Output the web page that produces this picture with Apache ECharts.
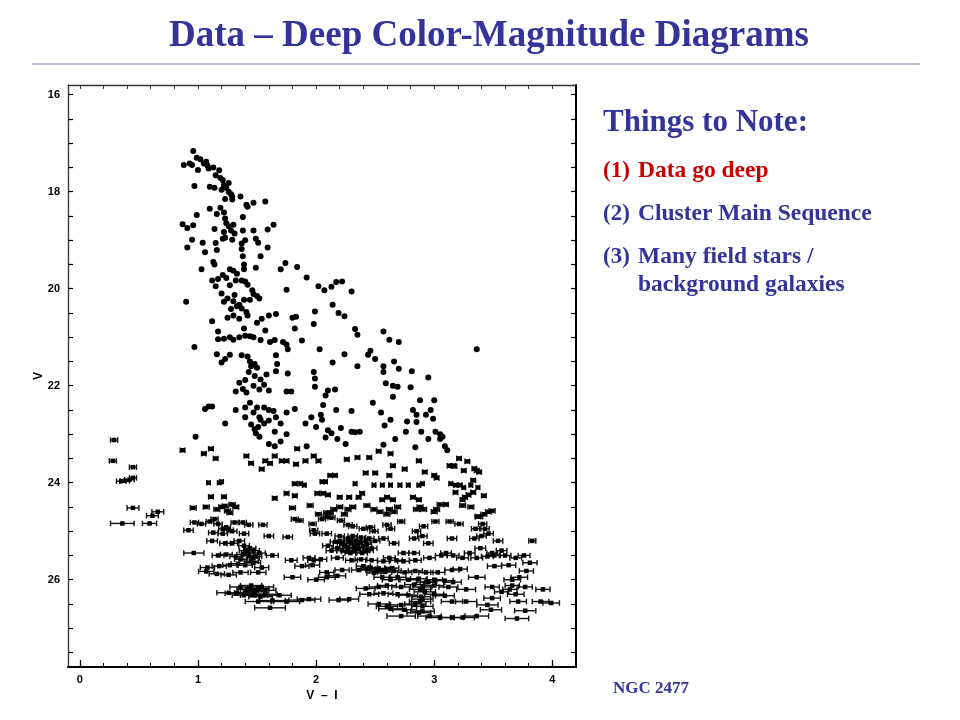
<!DOCTYPE html>
<html>
<head>
<meta charset="utf-8">
<script src="https://cdn.jsdelivr.net/npm/echarts@6.0.0/dist/echarts.min.js"></script>
<style>
html,body{margin:0;padding:0;background:#fff;}
#chart{width:960px;height:720px;}
</style>
</head>
<body>
<div id="chart"></div>
<script>
// ---- tick / label values ----
const xLabelValues = [0, 1, 2, 3, 4];
const xTickValues = [0,0.2,0.4,0.6,0.8,1,1.2,1.4,1.6,1.8,2,2.2,2.4,2.6,2.8,3,3.2,3.4,3.6,3.8,4];
const yLabelValues = [16, 18, 20, 22, 24, 26];
const yTickValues = [16,16.5,17,17.5,18,18.5,19,19.5,20,20.5,21,21.5,22,22.5,23,23.5,24,24.5,25,25.5,26,26.5,27,27.5];

// ---- bright stars (V - I, V), no visible error bars ----
const brightStars = [
[0.96,17.16],[0.88,17.45],[0.93,17.42],[0.95,17.45],[0.99,17.3],[1.0,17.55],[1.02,17.33],[1.05,17.42],[1.07,17.38],[1.08,17.46],
[1.09,17.52],[1.13,17.5],[1.15,17.66],[1.18,17.56],[1.19,17.72],[1.21,17.76],[1.22,17.86],[1.24,17.92],[1.26,17.82],[1.26,18.0],
[1.28,18.05],[1.29,18.1],[0.97,17.88],[1.1,17.9],[1.14,17.92],[1.2,17.96],[1.23,18.15],[1.29,18.16],[1.36,18.1],[1.41,18.27],
[1.42,18.31],[1.47,18.23],[1.57,18.2],
[0.87,18.67],[0.91,18.75],[0.96,18.69],[0.99,18.48],[1.1,18.35],[1.16,18.46],[1.19,18.33],[1.22,18.43],[1.23,18.55],[1.24,18.65],
[1.22,18.83],[1.26,18.71],[1.28,18.8],[1.3,18.68],[1.31,18.86],[1.38,18.8],[1.38,18.52],[1.47,18.8],[1.49,18.97],[1.59,18.78],
[1.64,18.68],[0.95,18.99],[1.04,19.05],[1.14,18.77],[1.15,19.06],[1.21,18.97],[1.23,18.95],[1.29,18.99],[1.37,19.07],[1.4,19.0],
[1.51,19.05],[1.59,19.15],[0.91,19.15],[1.06,19.25],[1.16,19.2],[1.37,19.18],[1.38,19.33],[1.39,19.5],[1.53,19.33],[1.13,19.45],
[1.03,19.6],[1.14,19.5],[1.17,19.8],[1.21,19.72],[1.27,19.6],[1.3,19.63],[1.33,19.69],[1.39,19.6],[1.49,19.57],[1.7,19.6],
[1.74,19.47],[1.84,19.55],[1.92,19.77],[2.02,19.95],[2.07,20.03],[2.13,19.96],[2.17,19.86],[2.22,19.85],[2.3,20.06],[1.12,19.83],
[1.15,19.95],[1.24,19.78],[1.27,19.93],[1.32,19.83],[1.37,19.83],[1.4,19.85],[1.42,19.92],[1.46,20.03],[1.47,20.11],[1.52,20.2],
[1.75,20.02],[0.9,20.27],[1.2,20.1],[1.25,20.2],[1.31,20.13],[1.35,20.33],[1.39,20.23],[1.44,20.23],[1.5,20.15],[1.28,20.42],
[1.33,20.36],[1.37,20.41],[1.41,20.48],[1.22,20.27],[1.3,20.26],[1.25,20.6],[1.3,20.55],[1.35,20.62],[1.42,20.55],[1.5,20.7],
[1.54,20.62],[1.6,20.55],[1.66,20.52],[1.8,20.6],[1.83,20.58],[1.99,20.47],[2.14,20.33],[2.19,20.5],[2.24,20.57],[1.12,20.67],
[1.82,20.82],[1.98,20.73],[2.33,20.83],[2.35,20.95],[2.57,20.88],[2.62,21.05],[2.7,21.1],
[0.97,21.2],[1.17,20.88],[1.17,21.04],[1.22,21.03],[1.27,21.0],[1.3,21.05],[1.35,21.0],[1.39,20.82],[1.4,20.97],[1.44,20.98],
[1.47,21.0],[1.53,21.06],[1.57,20.86],[1.61,21.1],[1.65,21.06],[1.72,21.1],[1.75,21.15],[1.88,21.07],[1.16,21.35],[1.2,21.52],
[1.23,21.45],[1.27,21.36],[1.37,21.37],[1.42,21.4],[1.44,21.5],[1.45,21.6],[1.48,21.55],[1.5,21.63],[1.66,21.37],[1.67,21.55],
[1.66,21.7],[1.76,21.25],[1.76,21.75],[2.03,21.25],[2.14,21.52],[2.24,21.35],[2.35,21.6],[2.44,21.36],[2.46,21.28],[2.5,21.45],
[2.57,21.6],[2.57,21.72],[2.66,21.5],[2.7,21.65],[2.81,21.7],[1.35,21.94],[1.4,21.88],[1.43,21.72],[1.48,21.8],[1.53,21.87],
[1.56,21.98],[1.58,21.77],[1.38,22.07],[1.32,22.12],[1.41,22.14],[1.47,22.0],[1.52,22.08],[1.6,22.1],[1.75,22.12],[1.79,22.12],
[1.99,22.02],[1.99,21.85],[1.98,21.72],[2.1,22.1],[2.59,21.95],[2.65,22.0],[2.69,22.02],[2.8,22.03],[2.95,21.83],[3.36,21.25],
[1.06,22.48],[1.09,22.43],[1.12,22.43],[1.23,22.78],[1.32,22.5],[1.4,22.45],[1.44,22.35],[1.47,22.55],[1.5,22.45],[1.52,22.65],
[1.56,22.45],[1.6,22.5],[1.64,22.52],[1.66,22.65],[1.4,22.65],[1.45,22.8],[1.48,22.9],[1.51,22.85],[1.53,22.7],[1.56,22.78],
[1.6,22.72],[1.65,22.95],[1.7,22.78],[1.75,22.55],[1.82,22.48],[1.91,22.78],[1.96,22.65],[2.0,22.85],[2.04,22.6],[2.06,22.4],
[2.08,22.2],[2.05,22.7],[2.1,22.92],[2.13,22.98],[2.16,22.08],[2.17,22.5],[2.21,22.87],[2.3,22.95],[2.33,22.96],[2.37,22.95],
[2.3,22.52],[2.48,22.35],[2.55,22.55],[2.63,22.7],[2.58,22.82],[2.65,22.23],[2.77,22.74],[2.82,22.5],[2.85,22.6],[2.88,22.3],
[2.93,22.6],[2.99,22.68],[3.0,22.3],[2.97,22.5],[3.01,22.95],[3.05,23.0],[3.07,23.05],[3.09,23.25],[3.11,23.33],[2.85,22.75],
[2.89,22.95],[2.95,23.1],[3.05,23.1],[2.67,23.1],[2.76,22.95],[0.98,23.05],[1.49,22.98],[1.52,23.05],[1.6,23.2],[1.65,23.25],
[1.7,23.15],[1.75,23.0],[1.92,23.25],[2.08,23.07],[2.18,23.1],[2.25,23.2],[2.57,23.22],[2.84,23.27]
];

// ---- stars with horizontal error bars: [V - I, V, error in V - I] ----
const starsV23 = [
[0.29,23.12,0.03],[0.28,23.55,0.03],[0.45,23.68,0.03],[0.87,23.33,0.02],[1.05,23.4,0.02],[1.11,23.3,0.02],[1.15,23.5,0.02],
[1.41,23.45,0.02],[1.45,23.6,0.02],[1.54,23.72,0.02],[1.57,23.55,0.02],[1.65,23.45,0.02],[1.61,23.6,0.02],[1.71,23.55,0.02],
[1.75,23.55,0.02],[1.83,23.62,0.02],[1.84,23.3,0.02],[1.91,23.55,0.02],[1.98,23.45,0.02],[2.02,23.55,0.02],[2.12,23.85,0.02],
[2.35,23.48,0.02],[2.26,23.52,0.02],[2.45,23.48,0.02],[2.5,23.8,0.02],[2.65,23.65,0.02],[2.75,23.72,0.02],[2.87,23.55,0.02],
[3.0,23.85,0.02],[2.92,23.78,0.02],[3.17,23.66,0.02],[3.21,23.5,0.02],[3.28,23.56,0.02],[3.34,23.71,0.02],[3.36,23.75,0.02],
[2.53,23.35,0.02],[2.63,23.4,0.02],[0.35,23.97,0.04],[0.38,23.96,0.04],[0.42,23.94,0.04],[0.45,23.9,0.03],[1.82,24.02,0.02],
[2.16,23.85,0.02],[2.42,23.8,0.02],[2.62,23.85,0.02],[3.02,23.9,0.02],[3.13,23.65,0.02],[3.16,23.65,0.02],[3.25,23.75,0.02],
[3.33,23.95,0.02],[3.38,23.78,0.02]
];
const starsV24 = [
[1.09,24.0,0.015],[1.18,24.0,0.015],[1.2,23.98,0.015],[1.87,24.02,0.015],[1.9,24.05,0.015],[2.05,23.98,0.015],[2.08,23.98,0.015],
[2.33,24.02,0.015],[2.49,24.05,0.015],[2.56,24.05,0.015],[2.63,24.05,0.015],[2.71,24.05,0.015],[2.78,24.05,0.015],[2.87,24.05,0.015],
[2.9,24.02,0.015],[3.14,24.02,0.015],[3.18,24.05,0.015],[3.22,24.05,0.015],[3.25,24.1,0.015],[3.31,24.05,0.015],[3.37,24.1,0.015],
[1.11,24.29,0.02],[1.22,24.29,0.02],[1.65,24.32,0.02],[1.75,24.22,0.02],[1.82,24.27,0.02],[2.01,24.22,0.02],[2.06,24.22,0.02],
[2.1,24.25,0.02],[2.2,24.3,0.02],[2.28,24.3,0.02],[2.36,24.3,0.02],[2.39,24.22,0.02],[2.56,24.35,0.02],[2.6,24.3,0.02],
[2.65,24.35,0.02],[2.82,24.3,0.02],[2.87,24.35,0.02],[3.1,24.45,0.02],[3.24,24.35,0.02],[3.26,24.3,0.02],[3.29,24.25,0.02],
[3.33,24.2,0.02],[3.42,24.27,0.02],[3.18,24.2,0.02],
[0.45,24.52,0.05],[0.66,24.6,0.05],[0.615,24.68,0.05],[0.96,24.52,0.025],[1.07,24.5,0.025],[1.16,24.55,0.025],[1.2,24.5,0.025],
[1.23,24.48,0.025],[1.29,24.45,0.025],[1.32,24.5,0.025],[1.25,24.58,0.025],[1.27,24.62,0.025],[1.8,24.52,0.025],[1.95,24.47,0.025],
[2.02,24.65,0.025],[2.09,24.62,0.025],[2.15,24.55,0.025],[2.2,24.5,0.025],[2.24,24.65,0.025],[2.27,24.55,0.025],[2.31,24.5,0.025],
[2.43,24.47,0.025],[2.49,24.55,0.025],[2.54,24.6,0.025],[2.6,24.65,0.025],[2.66,24.6,0.025],[2.69,24.5,0.025],[2.85,24.55,0.025],
[2.88,24.5,0.025],[2.91,24.55,0.025],[3.0,24.6,0.025],[3.05,24.45,0.025],[3.24,24.47,0.025],[3.31,24.5,0.025],[3.37,24.7,0.025],
[3.42,24.65,0.025],[3.46,24.6,0.025],[3.49,24.58,0.025],[2.12,24.62,0.025],[2.62,24.55,0.025],[3.02,24.55,0.025]
];
const starsV25 = [
[0.36,24.84,0.1],[0.59,24.84,0.06],[0.92,24.98,0.04],[0.97,24.82,0.035],[1.03,24.85,0.035],[1.1,24.8,0.03],[1.14,24.75,0.03],
[1.17,24.85,0.035],[1.21,24.95,0.035],[1.24,24.92,0.035],[1.31,24.82,0.03],[1.38,24.82,0.03],[1.43,24.87,0.035],[1.55,24.87,0.035],
[1.76,25.12,0.04],[1.82,24.75,0.03],[1.86,24.78,0.03],[1.97,24.85,0.03],[1.98,24.98,0.035],[2.05,24.75,0.03],[2.09,24.7,0.03],
[2.13,24.72,0.03],[2.21,24.78,0.03],[2.27,24.87,0.035],[2.31,24.9,0.035],[2.4,24.95,0.035],[2.46,24.92,0.035],[2.49,25.0,0.035],
[2.6,24.87,0.035],[2.63,24.95,0.035],[2.72,24.8,0.03],[2.85,25.0,0.035],[2.91,24.9,0.035],[3.01,24.8,0.03],[3.13,24.8,0.03],
[3.21,24.85,0.035],[3.35,24.95,0.035],[3.43,24.95,0.035],[3.41,24.85,0.035],[3.38,24.7,0.03],
[1.13,25.03,0.04],[1.21,25.05,0.04],[1.26,24.98,0.04],[1.29,25.0,0.04],[1.39,25.05,0.04],[1.6,25.1,0.04],[1.99,25.05,0.04],
[2.09,25.05,0.04],[2.2,25.1,0.04],[2.2,25.2,0.04],[2.22,25.25,0.04],[2.27,25.15,0.04],[2.31,25.1,0.04],[2.34,25.2,0.04],
[2.38,25.13,0.04],[2.42,25.2,0.04],[2.45,25.15,0.04],[2.5,25.2,0.04],[2.57,25.15,0.04],[2.66,25.25,0.04],[2.83,25.15,0.04],
[2.9,25.1,0.04],[2.95,25.25,0.04],[3.15,25.15,0.04],[3.34,25.15,0.04],[3.4,25.1,0.04],[3.46,25.05,0.04],[3.54,25.2,0.04],
[3.83,25.2,0.03],
[1.12,25.2,0.045],[1.23,25.25,0.045],[1.29,25.25,0.045],[1.35,25.2,0.045],[1.39,25.3,0.045],[1.4,25.4,0.05],[1.44,25.35,0.05],
[1.47,25.4,0.05],[2.1,25.3,0.045],[2.13,25.4,0.045],[2.18,25.35,0.045],[2.22,25.4,0.045],[2.27,25.35,0.045],[2.29,25.45,0.045],
[2.33,25.4,0.045],[2.36,25.35,0.045],[2.39,25.45,0.045],[2.44,25.4,0.045],[2.74,25.45,0.045],[2.83,25.45,0.045],[3.1,25.45,0.045],
[3.3,25.45,0.045],[3.39,25.35,0.045],[3.49,25.45,0.045],[3.57,25.4,0.045],
[2.24,25.3,0.04],[2.3,25.25,0.04],[2.35,25.28,0.04],[2.4,25.32,0.04],[2.26,25.42,0.045],[2.32,25.33,0.04],[2.37,25.22,0.04],
[2.43,25.27,0.04],[2.47,25.35,0.045],[2.16,25.22,0.04],[2.28,25.2,0.04],[2.41,25.4,0.045],
[1.42,25.45,0.05],[1.47,25.55,0.05],[1.52,25.45,0.05],[1.36,25.58,0.05],[1.45,25.62,0.06]
];
const starsV26 = [
[0.965,25.45,0.085],[1.17,25.5,0.05],[1.24,25.48,0.05],[1.32,25.52,0.05],[1.38,25.48,0.05],[1.43,25.5,0.05],[1.49,25.52,0.05],
[1.63,25.5,0.05],[1.79,25.6,0.05],[1.94,25.55,0.05],[1.98,25.6,0.05],[2.04,25.58,0.05],[2.18,25.55,0.05],[2.3,25.6,0.05],
[2.38,25.58,0.05],[2.47,25.6,0.05],[2.57,25.62,0.05],[2.62,25.55,0.05],[2.68,25.6,0.05],[2.74,25.62,0.05],[2.84,25.6,0.05],
[2.96,25.55,0.05],[3.06,25.5,0.05],[3.16,25.5,0.05],[3.24,25.55,0.05],[3.36,25.55,0.05],[3.45,25.52,0.05],[3.51,25.5,0.05],
[3.6,25.5,0.05],[3.69,25.55,0.05],[3.76,25.5,0.05],
[1.08,25.75,0.06],[1.18,25.72,0.06],[1.27,25.7,0.06],[1.34,25.67,0.06],[1.4,25.7,0.06],[1.47,25.65,0.06],[1.54,25.75,0.06],
[1.88,25.72,0.06],[1.97,25.7,0.06],[2.09,25.85,0.06],[2.22,25.8,0.06],[2.36,25.8,0.06],[2.44,25.78,0.06],[2.51,25.82,0.06],
[2.56,25.8,0.06],[2.6,25.78,0.06],[2.66,25.82,0.06],[2.75,25.85,0.06],[2.84,25.82,0.06],[2.93,25.85,0.06],[3.03,25.85,0.06],
[3.15,25.8,0.06],[3.22,25.78,0.06],[3.51,25.72,0.06],[3.63,25.7,0.06],[3.78,25.82,0.06],[3.81,25.65,0.06],
[2.46,25.75,0.06],[2.53,25.77,0.06],[2.58,25.84,0.06],[2.49,25.86,0.06],[2.64,25.76,0.06],[2.4,25.72,0.06],
[1.07,25.83,0.065],[1.16,25.88,0.065],[1.26,25.9,0.065],[1.36,25.85,0.065],[1.51,25.85,0.065],[1.8,25.95,0.07],[2.0,26.0,0.07],
[2.09,25.95,0.07],[2.18,25.92,0.07],[2.56,25.95,0.07],[2.63,26.0,0.07],[2.69,25.95,0.07],[2.78,26.0,0.07],[2.87,25.98,0.07],
[2.95,26.05,0.07],[3.0,26.0,0.07],[3.09,26.02,0.07],[3.16,26.05,0.07],[3.36,25.95,0.07],[3.66,26.0,0.07],[3.72,25.95,0.07]
];
const starsV27 = [
[1.36,26.15,0.09],[1.42,26.2,0.09],[1.51,26.18,0.09],[1.57,26.22,0.09],[1.45,26.12,0.09],[1.48,26.25,0.09],[1.4,26.27,0.09],
[1.33,26.28,0.1],[2.42,26.18,0.08],[2.53,26.15,0.08],[2.6,26.12,0.08],[2.72,26.15,0.08],[2.83,26.1,0.08],[2.9,26.15,0.08],
[3.0,26.12,0.08],[3.12,26.15,0.08],[3.27,26.2,0.08],[3.49,26.15,0.06],[3.66,26.12,0.06],[3.77,26.15,0.06],[3.92,26.2,0.06],
[3.57,26.25,0.06],[3.64,26.2,0.06],
[1.26,26.27,0.1],[1.39,26.32,0.1],[1.48,26.3,0.1],[1.57,26.3,0.1],[1.69,26.32,0.1],[1.94,26.4,0.1],[2.19,26.42,0.08],
[2.28,26.4,0.08],[2.45,26.3,0.08],[2.57,26.28,0.08],[2.69,26.3,0.08],[2.78,26.32,0.08],[2.89,26.35,0.08],[3.0,26.3,0.08],
[3.09,26.33,0.08],[3.69,26.3,0.07],[3.49,26.38,0.07],
[1.51,26.45,0.11],[1.63,26.43,0.11],[1.75,26.45,0.11],[1.88,26.42,0.11],[2.53,26.5,0.09],[2.6,26.55,0.09],[2.72,26.52,0.09],
[2.84,26.5,0.09],[2.9,26.55,0.09],[3.15,26.45,0.09],[3.27,26.45,0.09],[3.45,26.52,0.09],[3.71,26.45,0.07],[3.9,26.45,0.07],
[3.99,26.48,0.07],
[1.61,26.58,0.13],[2.63,26.6,0.1],[2.75,26.62,0.1],[2.87,26.68,0.1],[2.9,26.65,0.1],[3.48,26.62,0.09],[3.77,26.64,0.09],
[3.36,26.75,0.1],[3.15,26.78,0.1],[2.96,26.75,0.1],[3.24,26.78,0.1],[3.7,26.8,0.1],[2.72,26.75,0.12],[3.05,26.78,0.12],
[2.88,26.2,0.09],[2.92,26.25,0.09],[2.9,26.4,0.09],[2.88,26.45,0.09],[2.93,26.05,0.08],[1.44,26.2,0.1],[1.5,26.22,0.1],
[1.54,26.15,0.1],[1.46,26.32,0.1],[1.53,26.35,0.1]
];

const errStars = [].concat(starsV23, starsV24, starsV25, starsV26, starsV27);

const SERIF = '"Liberation Serif", "Times New Roman", serif';
const SANS = '"Liberation Sans", Arial, sans-serif';
const BLUE = '#333399';
const RED = '#cc0000';

const chart = echarts.init(document.getElementById('chart'), null, {renderer: 'canvas'});

const baseX = {type: 'value', min: -0.1, max: 4.2, splitLine: {show: false}};
const baseY = {type: 'value', min: 15.8, max: 27.8, inverse: true, splitLine: {show: false}};

const option = {
  animation: false,
  backgroundColor: '#fff',
  grid: {left: 68, top: 85, width: 508, height: 582, containLabel: false},
  xAxis: [
    Object.assign({}, baseX, {
      position: 'bottom',
      name: 'V  –  I', nameLocation: 'middle', nameGap: 20,
      nameTextStyle: {fontFamily: SANS, fontSize: 12, fontWeight: 'bold', color: '#000'},
      axisLine: {show: true, onZero: false, lineStyle: {color: '#000', width: 2}},
      axisTick: {show: true, inside: true, length: 7, customValues: xLabelValues, lineStyle: {color: '#000', width: 1.3}},
      axisLabel: {show: true, customValues: xLabelValues, margin: 7, fontFamily: SANS, fontSize: 11, fontWeight: 'bold', color: '#000'}
    }),
    Object.assign({}, baseX, {
      position: 'bottom',
      axisLine: {show: false, onZero: false},
      axisTick: {show: true, inside: true, length: 4, customValues: xTickValues, lineStyle: {color: '#000', width: 1}},
      axisLabel: {show: false}
    }),
    Object.assign({}, baseX, {
      position: 'top',
      axisLine: {show: true, onZero: false, lineStyle: {color: '#333', width: 1.3}},
      axisTick: {show: true, inside: true, length: 4, customValues: xTickValues, lineStyle: {color: '#333', width: 1}},
      axisLabel: {show: false}
    })
  ],
  yAxis: [
    Object.assign({}, baseY, {
      position: 'left',
      name: 'V', nameLocation: 'middle', nameGap: 23, nameMoveOverlap: false,
      nameTextStyle: {fontFamily: SANS, fontSize: 12, fontWeight: 'bold', color: '#000'},
      axisLine: {show: true, onZero: false, lineStyle: {color: '#333', width: 1.3}},
      axisTick: {show: true, inside: true, length: 5, customValues: yTickValues, lineStyle: {color: '#000', width: 1.2}},
      axisLabel: {show: true, customValues: yLabelValues, margin: 8, fontFamily: SANS, fontSize: 11, fontWeight: 'bold', color: '#000'}
    }),
    Object.assign({}, baseY, {
      position: 'right',
      axisLine: {show: true, onZero: false, lineStyle: {color: '#000', width: 2}},
      axisTick: {show: true, inside: true, length: 5, customValues: yTickValues, lineStyle: {color: '#000', width: 1.2}},
      axisLabel: {show: false}
    })
  ],
  series: [
    {
      type: 'custom',
      xAxisIndex: 0, yAxisIndex: 0,
      data: errStars,
      silent: true,
      renderItem: function (params, api) {
        const x = api.value(0), y = api.value(1), e = api.value(2);
        const p1 = api.coord([x - e, y]);
        const p2 = api.coord([x + e, y]);
        const c = 2.8;
        const st = {stroke: '#111', lineWidth: 1.4};
        return {
          type: 'group',
          children: [
            {type: 'line', shape: {x1: p1[0], y1: p1[1], x2: p2[0], y2: p2[1]}, style: st},
            {type: 'line', shape: {x1: p1[0], y1: p1[1] - c, x2: p1[0], y2: p1[1] + c}, style: st},
            {type: 'line', shape: {x1: p2[0], y1: p2[1] - c, x2: p2[0], y2: p2[1] + c}, style: st}
          ]
        };
      }
    },
    {
      type: 'scatter', xAxisIndex: 0, yAxisIndex: 0,
      data: errStars.map(function (d) { return [d[0], d[1]]; }),
      symbol: 'rect', symbolSize: 4.5,
      itemStyle: {color: '#000', opacity: 1}, silent: true
    },
    {
      type: 'scatter', xAxisIndex: 0, yAxisIndex: 0,
      data: brightStars,
      symbol: 'circle', symbolSize: 6,
      itemStyle: {color: '#000', opacity: 1}, silent: true
    }
  ],
  graphic: {
    elements: [
      {type: 'text', x: 489, y: 36, style: {text: 'Data – Deep Color-Magnitude Diagrams', font: 'bold 37px ' + SERIF, fill: BLUE, textAlign: 'center', textVerticalAlign: 'middle'}},
      {type: 'line', shape: {x1: 32, y1: 64, x2: 920, y2: 64}, style: {stroke: '#8080b0', lineWidth: 1}},
      {type: 'text', x: 603, y: 123, style: {text: 'Things to Note:', font: 'bold 31px ' + SERIF, fill: BLUE, textVerticalAlign: 'middle'}},
      {type: 'text', x: 603, y: 171, style: {text: '(1)', font: 'bold 23px ' + SERIF, fill: RED, textVerticalAlign: 'middle'}},
      {type: 'text', x: 638, y: 171, style: {text: 'Data go deep', font: 'bold 23.5px ' + SERIF, fill: RED, textVerticalAlign: 'middle'}},
      {type: 'text', x: 603, y: 214, style: {text: '(2)', font: 'bold 23px ' + SERIF, fill: BLUE, textVerticalAlign: 'middle'}},
      {type: 'text', x: 638, y: 214, style: {text: 'Cluster Main Sequence', font: 'bold 23.5px ' + SERIF, fill: BLUE, textVerticalAlign: 'middle'}},
      {type: 'text', x: 603, y: 257, style: {text: '(3)', font: 'bold 23px ' + SERIF, fill: BLUE, textVerticalAlign: 'middle'}},
      {type: 'text', x: 638, y: 257, style: {text: 'Many field stars /', font: 'bold 23.5px ' + SERIF, fill: BLUE, textVerticalAlign: 'middle'}},
      {type: 'text', x: 638, y: 285, style: {text: 'background galaxies', font: 'bold 23.5px ' + SERIF, fill: BLUE, textVerticalAlign: 'middle'}},
      {type: 'text', x: 613, y: 689, style: {text: 'NGC 2477', font: 'bold 17px ' + SERIF, fill: BLUE, textVerticalAlign: 'middle'}}
    ]
  }
};
chart.setOption(option);
</script>
</body>
</html>
